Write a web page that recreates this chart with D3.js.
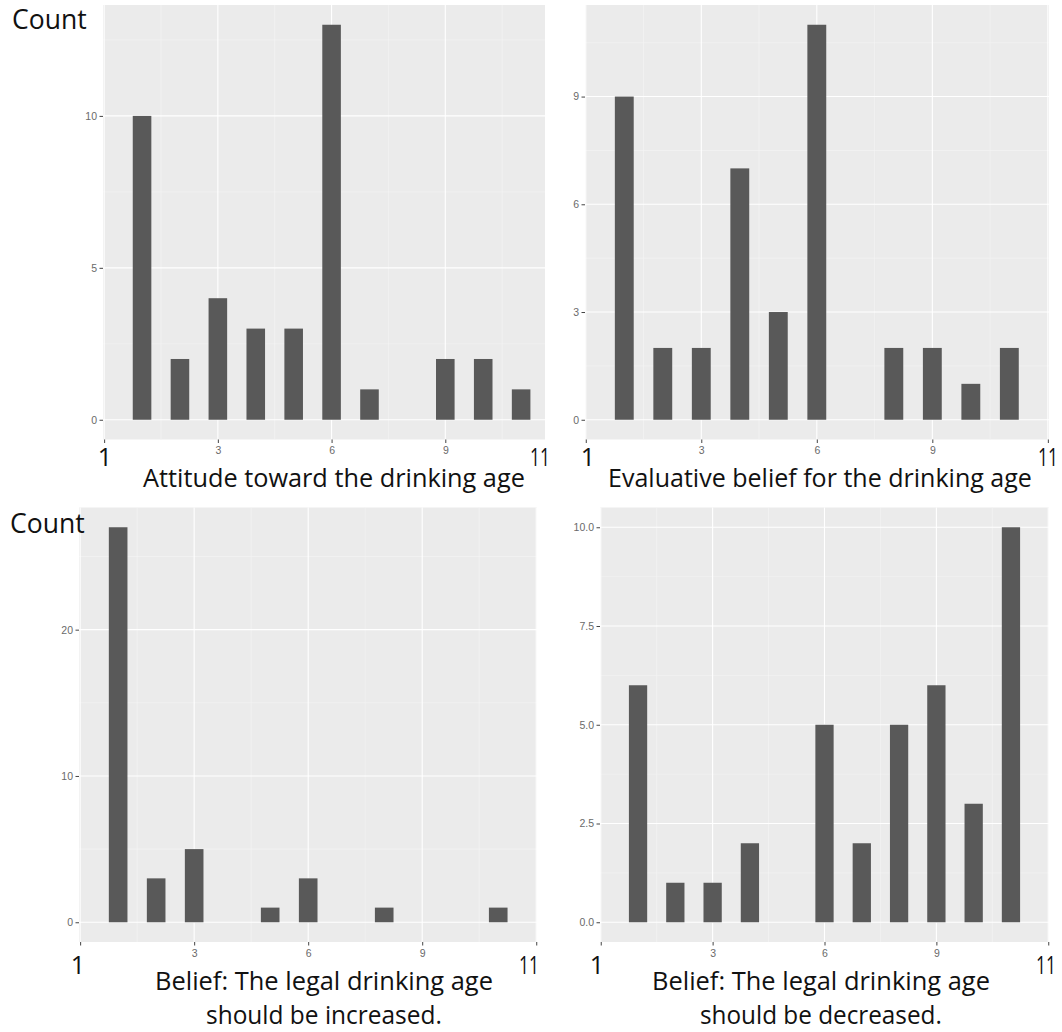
<!DOCTYPE html>
<html>
<head>
<meta charset="utf-8">
<script src="https://cdn.jsdelivr.net/npm/d3@7"></script>
<style>
  body { margin: 0; background: #fff; }
  svg { display: block; }
  .tick text { font-family: "Liberation Sans", Arial, sans-serif; fill: #6a6a6a; }
  .tick line { stroke: #444; }
  .big { font-family: "Open Sans", "Noto Sans", sans-serif; fill: #111; }
</style>
</head>
<body>
<svg id="chart" width="1062" height="1032"></svg>
<script>
// answer scale 1..11
const scaleValues = [1, 2, 3, 4, 5, 6, 7, 8, 9, 10, 11];

// counts, one per scale value
const attitudeCounts   = [10, 2, 4, 3, 3, 13, 1, 0, 2, 2, 1];
const evaluativeCounts = [9, 2, 2, 7, 3, 11, 0, 2, 2, 1, 2];
const increasedCounts  = [27, 3, 5, 0, 1, 3, 0, 1, 0, 0, 1];
const decreasedCounts  = [6, 1, 1, 2, 0, 5, 2, 5, 6, 3, 10];

// y breaks of each panel
const attitudeBreaks   = [0, 5, 10];
const evaluativeBreaks = [0, 3, 6, 9];
const increasedBreaks  = [0, 10, 20];
const decreasedBreaks  = [0, 2.5, 5, 7.5, 10];

// x breaks (0 and 12 carry no label, the end labels replace them)
const xBreaks = [0, 3, 6, 9, 12];
const endLabels = ["1", "11"];

const attitudeTitle   = ["Attitude toward the drinking age"];
const evaluativeTitle = ["Evaluative belief for the drinking age"];
const increasedTitle  = ["Belief: The legal drinking age", "should be increased."];
const decreasedTitle  = ["Belief: The legal drinking age", "should be decreased."];

const yLabel = "Count";

const svg = d3.select("#chart");

// squeeze a text horizontally so it spans `w` px, left edge at x0 (or centred on cx)
function fitText(sel, w, x0, y, centred) {
  const natural = sel.node().getComputedTextLength();
  const k = Math.min(1, w / natural);
  const left = centred ? x0 - natural * k / 2 : x0;
  sel.attr("x", 0).attr("y", 0)
    .attr("transform", `translate(${left},${y}) scale(${k},1)`);
}

// panel layout
const panels = [
  { counts: attitudeCounts, breaks: attitudeBreaks, title: attitudeTitle, fmt: d3.format("d"),
    xdom: [-0.03, 11.63], xr: [103, 545], yr: [439.5, 5],
    ends: [105, 540], endBase: 466, titleX: 334, titleW: [382], titleBase: [487],
    count: { x: 12, y: 29, w: 80 } },
  { counts: evaluativeCounts, breaks: evaluativeBreaks, title: evaluativeTitle, fmt: d3.format("d"),
    xdom: [-0.02, 12.03], xr: [585, 1049], yr: [439.5, 5],
    ends: [588, 1048], endBase: 466, titleX: 820, titleW: [424], titleBase: [487] },
  { counts: increasedCounts, breaks: increasedBreaks, title: increasedTitle, fmt: d3.format("d"),
    xdom: [-0.03, 12.02], xr: [79, 537], yr: [942, 507.5],
    ends: [78, 529], endBase: 974, titleX: 324, titleW: [338, 236], titleBase: [990, 1024],
    count: { x: 10, y: 533, w: 81 } },
  { counts: decreasedCounts, breaks: decreasedBreaks, title: decreasedTitle, fmt: d3.format(".1f"),
    xdom: [-0.02, 12.02], xr: [600, 1049], yr: [942, 507.5],
    ends: [597, 1046], endBase: 974, titleX: 821, titleW: [338, 242], titleBase: [990, 1024] }
];

panels.forEach(p => {
  const maxCount = d3.max(p.counts);
  const x = d3.scaleLinear().domain(p.xdom).range(p.xr);
  const y = d3.scaleLinear().domain([-0.05 * maxCount, 1.05 * maxCount]).range(p.yr);
  const g = svg.append("g");

  // background
  g.append("rect")
    .attr("x", p.xr[0]).attr("y", p.yr[1])
    .attr("width", p.xr[1] - p.xr[0]).attr("height", p.yr[0] - p.yr[1])
    .attr("fill", "#ebebeb");

  // minor grid
  const step = p.breaks[1] - p.breaks[0];
  const yMinor = d3.range(step / 2, 1.05 * maxCount, step);
  const xMinor = [1.5, 4.5, 7.5, 10.5].filter(v => v < p.xdom[1]);
  g.selectAll(".ymin").data(yMinor).join("line")
    .attr("x1", p.xr[0]).attr("x2", p.xr[1])
    .attr("y1", d => y(d)).attr("y2", d => y(d))
    .attr("stroke", "#f5f5f5").attr("stroke-width", 0.6);
  g.selectAll(".xmin").data(xMinor).join("line")
    .attr("y1", p.yr[0]).attr("y2", p.yr[1])
    .attr("x1", d => x(d)).attr("x2", d => x(d))
    .attr("stroke", "#f5f5f5").attr("stroke-width", 0.6);

  // major grid
  g.selectAll(".ymaj").data(p.breaks).join("line")
    .attr("x1", p.xr[0]).attr("x2", p.xr[1])
    .attr("y1", d => y(d)).attr("y2", d => y(d))
    .attr("stroke", "#fff").attr("stroke-width", 1.1);
  g.selectAll(".xmaj").data(xBreaks.filter(v => v > p.xdom[0] && v < p.xdom[1])).join("line")
    .attr("y1", p.yr[0]).attr("y2", p.yr[1])
    .attr("x1", d => x(d)).attr("x2", d => x(d))
    .attr("stroke", "#fff").attr("stroke-width", 1.1);

  // bars
  const barW = 0.49;
  g.selectAll(".bar").data(scaleValues.map((v, i) => ({ v, n: p.counts[i] })).filter(d => d.n > 0))
    .join("rect")
    .attr("x", d => x(d.v - barW / 2))
    .attr("width", d => x(d.v + barW / 2) - x(d.v - barW / 2))
    .attr("y", d => y(d.n))
    .attr("height", d => y(0) - y(d.n))
    .attr("fill", "#595959");

  // axes
  const ya = g.append("g")
    .attr("transform", `translate(${p.xr[0]},0)`)
    .call(d3.axisLeft(y).tickValues(p.breaks).tickFormat(p.fmt).tickSize(3.5).tickPadding(2.5));
  ya.select(".domain").remove();
  ya.selectAll("text").attr("font-size", 10.5);

  const xa = g.append("g")
    .attr("transform", `translate(0,${p.yr[0]})`)
    .call(d3.axisBottom(x).tickValues(xBreaks.filter(v => v >= p.xdom[0] && v <= p.xdom[1]))
      .tickFormat(d => (d === 0 || d === 12) ? "" : d).tickSize(3.5).tickPadding(4));
  xa.select(".domain").remove();
  xa.selectAll("text").attr("font-size", 10.5);

  // end labels, the "11" kept narrow like the original lettering
  endLabels.forEach((lab, i) => {
    const t = g.append("text").attr("class", "big").attr("font-size", 25).text(lab);
    fitText(t, lab.length > 1 ? 20 : 99, p.ends[i], p.endBase, true);
  });

  // axis title
  p.title.forEach((line, i) => {
    const t = g.append("text").attr("class", "big").attr("font-size", 26).text(line);
    fitText(t, p.titleW[i], p.titleX, p.titleBase[i], true);
  });

  if (p.count) {
    const t = g.append("text").attr("class", "big").attr("font-size", 26.5).text(yLabel);
    fitText(t, p.count.w, p.count.x, p.count.y, false);
  }
});
</script>
</body>
</html>
